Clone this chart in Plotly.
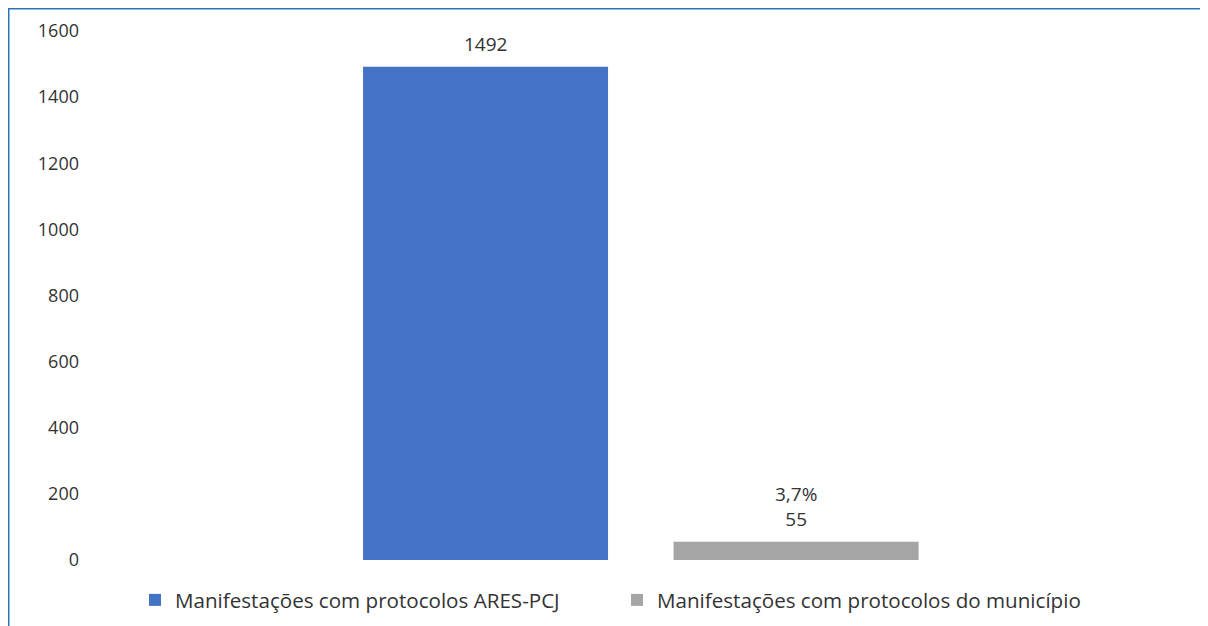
import plotly.graph_objects as go

categories = ["ARES-PCJ", "Município"]
series_names = ["Manifestações com protocolos ARES-PCJ", "Manifestações com protocolos do município"]
values = [1492, 55]
value_labels = ["1492", "3,7%<br>55"]
colors = ["#4472C4", "#A5A5A5"]
y_ticks = [0, 200, 400, 600, 800, 1000, 1200, 1400, 1600]

# page has an 8px body margin; figure coords = page coords - 8
W, H = 1200, 618
L, R, T, B = 72, 7, 23, 66
pw, ph = W - L - R, H - T - B

font_family = "Open Sans, Calibri, sans-serif"
text_color = "#333333"

def px_x(p):
    return (p - L) / pw

def px_y(p):
    return 1 - (p - T) / ph

fig = go.Figure()
for i in range(len(categories)):
    fig.add_trace(go.Bar(
        x=[categories[i]], y=[values[i]], name=series_names[i],
        marker=dict(color=colors[i], line=dict(width=0)),
        legendwidth=437 if i == 0 else None,
    ))
    fig.add_annotation(
        x=categories[i], y=values[i], xref="x", yref="y",
        text=value_labels[i], showarrow=False, yanchor="bottom", yshift=8,
        font=dict(size=19, color=text_color, family=font_family),
    )

border = "#2E75B6"
fig.add_shape(type="line", xref="paper", yref="paper",
              x0=px_x(0), x1=px_x(1210), y0=px_y(0), y1=px_y(0),
              line=dict(color=border, width=3))
fig.add_shape(type="line", xref="paper", yref="paper",
              x0=px_x(0), x1=px_x(0), y0=px_y(0), y1=px_y(630),
              line=dict(color=border, width=3))

fig.update_layout(
    width=W, height=H,
    margin=dict(l=L, r=R, t=T, b=B, autoexpand=False),
    paper_bgcolor="white", plot_bgcolor="white",
    barmode="overlay", bargap=0.211,
    font=dict(family=font_family, size=18, color=text_color),
    showlegend=True,
    legend=dict(orientation="h", x=px_x(127), xanchor="left",
                y=px_y(592), yanchor="middle", itemwidth=30,
                font=dict(size=20.6, color=text_color, family=font_family),
                traceorder="normal"),
    xaxis=dict(type="category", range=[-1.306, 2.304], showticklabels=False,
               showline=False, showgrid=False, zeroline=False, ticks=""),
    yaxis=dict(range=[0, 1600], tickvals=y_ticks, showgrid=False, zeroline=False,
               showline=False, ticks="", tickfont=dict(size=18, color=text_color)),
)

fig.write_html("out.html")
